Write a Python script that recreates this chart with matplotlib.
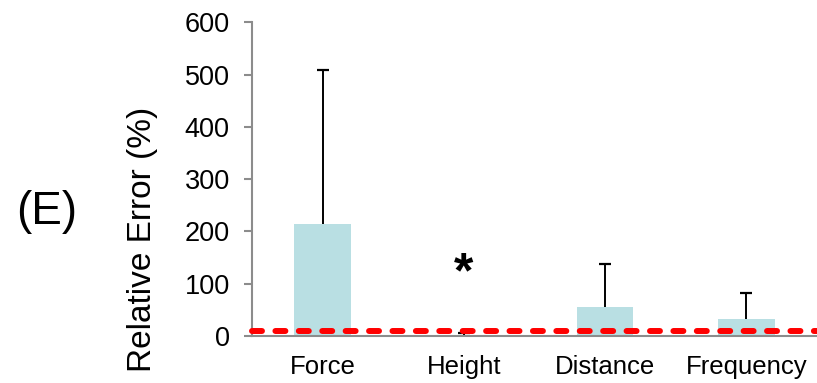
import matplotlib.pyplot as plt
import numpy as np

plt.rcParams["font.family"] = ["Liberation Sans", "DejaVu Sans"]

categories = ["Force", "Height", "Distance", "Frequency"]
mean_error = [214, 2, 55, 32]
upper_err = [296, 4, 83, 51]
threshold = 10
star_category = "Height"
star_y = 118

yticks = [0, 100, 200, 300, 400, 500, 600]

bar_color = "#B9DFE3"
axis_color = "#8C8C8C"

fig = plt.figure(figsize=(8.17, 3.83), dpi=100)
ax = fig.add_axes([0.3084, 0.1227, 0.6916, 0.8186])

x = np.arange(len(categories))
tops = np.array(mean_error) + np.array(upper_err)
ax.bar(x, mean_error, width=0.4, color=bar_color, zorder=2)
# upper-only error bars
ax.vlines(x, mean_error, tops, color="black", linewidth=1.4, zorder=3)
ax.plot(x, tops, linestyle="none", marker="_", markersize=8, markeredgewidth=1.6,
        color="black", zorder=3)

# threshold line
ax.axhline(threshold, color="#FF0000", linewidth=4.3, linestyle=(0, (1.67, 2.25)),
           dash_capstyle="round", zorder=4, clip_on=False)

ax.text(categories.index(star_category), star_y, "*", ha="center", va="center",
        fontsize=36, fontweight="bold")

ax.set_xlim(-0.5, len(categories) - 0.5)
ax.set_ylim(0, 600)
ax.set_yticks(yticks)
ax.set_xticks(x)
ax.set_xticklabels(categories)

ax.spines["top"].set_visible(False)
ax.spines["right"].set_visible(False)
ax.spines["left"].set_color(axis_color)
ax.spines["bottom"].set_color(axis_color)
ax.spines["left"].set_linewidth(1.5)
ax.spines["bottom"].set_linewidth(1.5)

ax.tick_params(axis="y", direction="out", length=6, width=1.5, color=axis_color,
               labelsize=19.5, pad=10)
ax.tick_params(axis="x", length=0, labelsize=18.5, pad=14)

fig.text(143 / 817, 1 - 239 / 383, "Relative Error (%)", rotation=90,
         ha="center", va="center", fontsize=24)
fig.text(47 / 817, 1 - 212 / 383, "(E)", ha="center", va="center", fontsize=33)

fig.savefig("out.png", dpi=100)
plt.close(fig)
